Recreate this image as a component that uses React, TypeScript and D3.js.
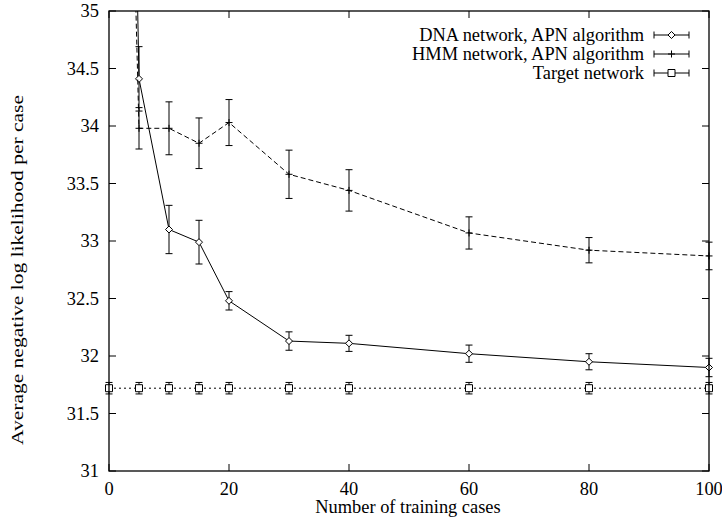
import * as d3 from 'd3'

// training set sizes
const trainingCases = [0, 5, 10, 15, 20, 30, 40, 60, 80, 100]

// DNA network, APN algorithm
const dnaMean = [48, 34.41, 33.1, 32.99, 32.48, 32.13, 32.11, 32.02, 31.95, 31.9]
const dnaErr = [0.5, 0.28, 0.21, 0.19, 0.08, 0.08, 0.07, 0.075, 0.07, 0.08]

// HMM network, APN algorithm
const hmmMean = [44, 33.98, 33.98, 33.85, 34.03, 33.58, 33.44, 33.07, 32.92, 32.87]
const hmmErr = [0.5, 0.18, 0.23, 0.22, 0.2, 0.21, 0.18, 0.14, 0.11, 0.12]

// Target network
const targetMean = [31.72, 31.72, 31.72, 31.72, 31.72, 31.72, 31.72, 31.72, 31.72, 31.72]
const targetErr = [0.05, 0.05, 0.05, 0.05, 0.05, 0.05, 0.05, 0.05, 0.05, 0.05]

const xTicks = [0, 20, 40, 60, 80, 100]
const yTicks = [31, 31.5, 32, 32.5, 33, 33.5, 34, 34.5, 35]

const legendLabels = ['DNA network, APN algorithm', 'HMM network, APN algorithm', 'Target network']

const W = 722
const H = 521
const margin = { top: 11, right: 13, bottom: 50, left: 109 }
const FONT = 'Liberation Serif, Times New Roman, Times, serif'
const textStyle = { fontFamily: FONT, fontSize: 18.4 }

type Marker = 'diamond' | 'plus' | 'square'

function markerPath(kind: Marker, cx: number, cy: number) {
  const r = 3.5
  if (kind === 'diamond') {
    return `M${cx},${cy - r}L${cx + r},${cy}L${cx},${cy + r}L${cx - r},${cy}Z`
  }
  if (kind === 'plus') {
    return `M${cx - r},${cy}H${cx + r}M${cx},${cy - r}V${cy + r}`
  }
  return `M${cx - r},${cy - r}H${cx + r}V${cy + r}H${cx - r}Z`
}

export default function App() {
  const x = d3.scaleLinear().domain([0, 100]).range([margin.left, W - margin.right])
  const y = d3.scaleLinear().domain([31, 35]).range([H - margin.bottom, margin.top])
  const x0 = x(0)
  const x1 = x(100)
  const y0 = y(31)
  const y1 = y(35)

  const series = [
    { mean: dnaMean, err: dnaErr, marker: 'diamond' as Marker, dash: undefined as string | undefined },
    { mean: hmmMean, err: hmmErr, marker: 'plus' as Marker, dash: '5,3' },
    { mean: targetMean, err: targetErr, marker: 'square' as Marker, dash: '2,3' },
  ]

  const line = d3
    .line<number>()
    .x((_, i) => x(trainingCases[i]))
    .y((d) => y(d))

  const cap = 3.5
  const tick = 7

  return (
    <svg
      width={W}
      height={H}
      style={{ position: 'absolute', left: 0, top: 0, background: '#fff' }}
    >
      <defs>
        <clipPath id="plotClip">
          <rect x={x0 - 8} y={y1} width={x1 - x0 + 16} height={y0 - y1} />
        </clipPath>
      </defs>

      {/* ticks, mirrored on all sides */}
      <g stroke="#000" strokeWidth={1}>
        {xTicks.map((t) => (
          <g key={'xt' + t}>
            <line x1={x(t)} x2={x(t)} y1={y0} y2={y0 - tick} />
            <line x1={x(t)} x2={x(t)} y1={y1} y2={y1 + tick} />
          </g>
        ))}
        {yTicks.map((t) => (
          <g key={'yt' + t}>
            <line x1={x0} x2={x0 + tick} y1={y(t)} y2={y(t)} />
            <line x1={x1} x2={x1 - tick} y1={y(t)} y2={y(t)} />
          </g>
        ))}
      </g>

      <g fill="#000">
        {xTicks.map((t) => (
          <text key={'xl' + t} style={textStyle} x={x(t)} y={y0 + 24} textAnchor="middle">
            {t}
          </text>
        ))}
        {yTicks.map((t) => (
          <text key={'yl' + t} style={textStyle} x={x0 - 10} y={y(t) + 6} textAnchor="end">
            {t}
          </text>
        ))}
        <text style={textStyle} x={408} y={513} textAnchor="middle">
          Number of training cases
        </text>
        <text
          style={{ fontFamily: FONT, fontSize: 16 }}
          transform="translate(23,270) rotate(-90)"
          textAnchor="middle"
          textLength={350}
          lengthAdjust="spacingAndGlyphs"
        >
          Average negative log likelihood per case
        </text>
      </g>

      <g clipPath="url(#plotClip)" fill="none" stroke="#000" strokeWidth={1}>
        {series.map((s, si) => (
          <g key={'s' + si}>
            <path d={line(s.mean) || ''} strokeDasharray={s.dash} />
            {s.mean.map((m, i) => {
              const cx = x(trainingCases[i])
              const top = y(m + s.err[i])
              const bot = y(m - s.err[i])
              return (
                <g key={'e' + i}>
                  <path
                    d={`M${cx},${top}V${bot}M${cx - cap},${top}H${cx + cap}M${cx - cap},${bot}H${cx + cap}`}
                  />
                  <path d={markerPath(s.marker, cx, y(m))} fill="#fff" />
                </g>
              )
            })}
          </g>
        ))}
      </g>

      {/* legend */}
      <g>
        {series.map((s, i) => {
          const ly = 35 + i * 19
          const lx0 = 654
          const lx1 = 689
          return (
            <g key={'lg' + i}>
              <text style={textStyle} x={644} y={ly + 6} textAnchor="end" fill="#000">
                {legendLabels[i]}
              </text>
              <path
                d={`M${lx0},${ly}H${lx1}M${lx0},${ly - cap}V${ly + cap}M${lx1},${ly - cap}V${ly + cap}`}
                stroke="#000"
                fill="none"
              />
              <path d={markerPath(s.marker, (lx0 + lx1) / 2, ly)} stroke="#000" fill="#fff" />
            </g>
          )
        })}
      </g>

      <rect
        x={x0}
        y={y1}
        width={x1 - x0}
        height={y0 - y1}
        fill="none"
        stroke="#000"
        strokeWidth={1.3}
      />
    </svg>
  )
}
